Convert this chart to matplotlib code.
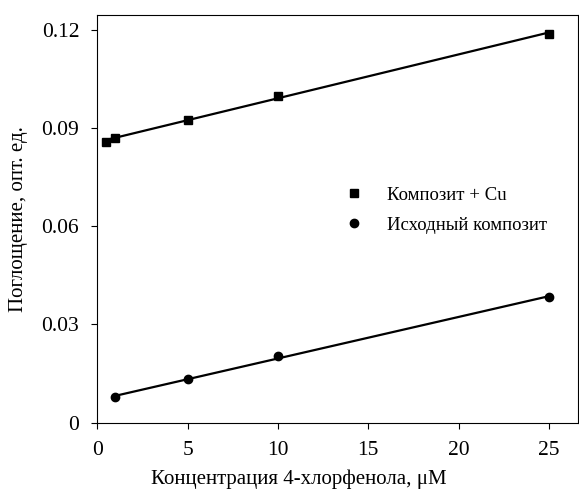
import numpy as np
import matplotlib.pyplot as plt
from matplotlib.lines import Line2D

plt.rcParams['font.family'] = ['Liberation Serif', 'DejaVu Serif']

# data
conc_cu = [0.5, 1, 5, 10, 25]
abs_cu = [0.0857, 0.0870, 0.0925, 0.0998, 0.1188]
conc_init = [1, 5, 10, 25]
abs_init = [0.0077, 0.0132, 0.0204, 0.0383]

yticks = [0, 0.03, 0.06, 0.09, 0.12]
ytick_labels = ['0', '0.03', '0.06', '0.09', '0.12']
xticks = [0, 5, 10, 15, 20, 25]

label_cu = 'Композит + Cu'
label_init = 'Исходный композит'

fig = plt.figure(figsize=(5.79, 4.96), dpi=100)
ax = fig.add_axes([0.168, 0.148, 0.830, 0.822])

# linear fits
for x, y in [(conc_cu, abs_cu), (conc_init, abs_init)]:
    k, b = np.polyfit(x, y, 1)
    xx = np.array([min(x), max(x)])
    ax.plot(xx, k * xx + b, color='black', lw=1.6, zorder=2)

ax.plot(conc_cu, abs_cu, 's', color='black', ms=5.5, zorder=3)
ax.plot(conc_init, abs_init, 'o', color='black', ms=6, zorder=3)

ax.set_xlim(0, 26.6)
ax.set_ylim(0, 0.1245)
ax.set_xticks(xticks)
ax.set_yticks(yticks)
ax.set_yticklabels(ytick_labels)
ax.tick_params(direction='out', length=4, width=0.8, labelsize=15.5)
ax.tick_params(axis='x', pad=9)
ax.tick_params(axis='y', pad=9)
for s in ax.spines.values():
    s.set_linewidth(0.8)

ax.set_xlabel('Концентрация 4-хлорфенола, μM', fontsize=15, labelpad=7)
ax.xaxis.set_label_coords(0.42, -0.115)
ax.set_ylabel('Поглощение, опт. ед.', fontsize=15, labelpad=10)

handles = [
    Line2D([], [], marker='s', color='black', ls='none', ms=5.5),
    Line2D([], [], marker='o', color='black', ls='none', ms=6),
]
ax.legend(handles, [label_cu, label_init], frameon=False, fontsize=13.5,
          loc='upper left', bbox_to_anchor=(0.46, 0.62),
          handletextpad=0.75, labelspacing=0.7)

fig.savefig('out.png', dpi=100)
